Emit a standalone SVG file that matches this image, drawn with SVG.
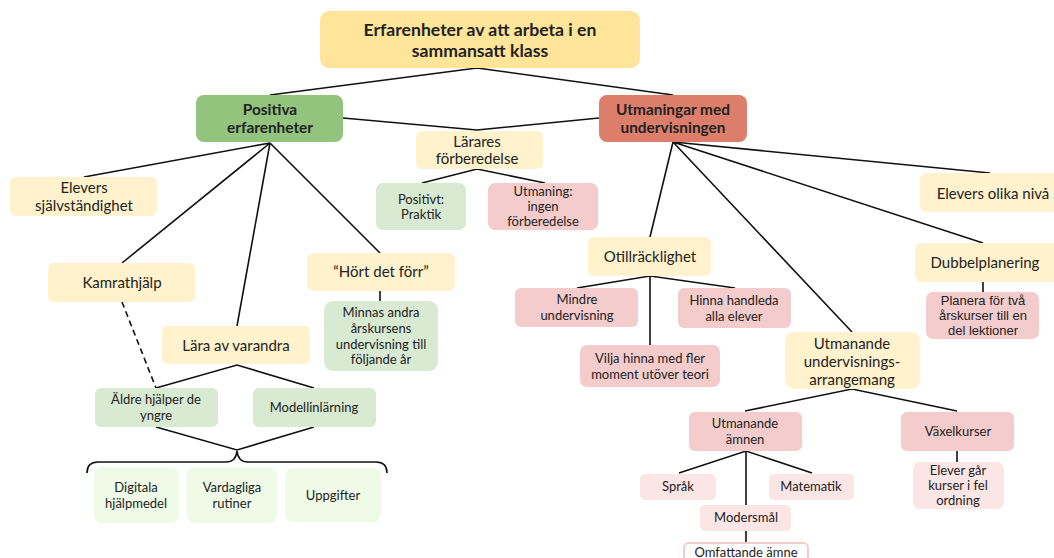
<svg xmlns="http://www.w3.org/2000/svg" width="1054" height="558" viewBox="0 0 1054 558">
  <style>
    text { font-family: Lato, "Liberation Sans", sans-serif; fill: #222; text-anchor: middle; }
    .t17 { font-size: 17.6px; font-weight: bold; }
    .t15b { font-size: 15.4px; font-weight: bold; }
    .t15 { font-size: 15px; }
    .t13 { font-size: 13px; }
    .arial { font-family: "Liberation Sans", Arial, sans-serif; font-size: 13px; }
    .top { fill: #ffe599; }
    .pos { fill: #93c47d; }
    .neg { fill: #dd7e6b; }
    .yel { fill: #fff2cc; }
    .grn { fill: #d9ead3; }
    .lgr { fill: #effae7; }
    .pnk { fill: #f4cccc; }
    .lpk { fill: #fce5e5; }
    .out { fill: #ffffff; stroke: #f4cccc; stroke-width: 2; }
    .edge { fill: none; stroke: #111; stroke-width: 1.6; }
    .dash { fill: none; stroke: #111; stroke-width: 1.6; stroke-dasharray: 6 4; }
  </style>

  <g id="connectors">
    <path class="edge" d="M477,68 L270,95 M477,68 L673,95"/>
    <path class="edge" d="M343,118 L477,130 L599,118"/>
    <path class="edge" d="M422,183 L477,169 L545,183"/>
    <path class="edge" d="M270,143 L84,177 M270,143 L122,263 M270,143 L237,326 M270,143 L380,253"/>
    <path class="edge" d="M380,291 L380,301"/>
    <path class="dash" d="M122,302 L156,388"/>
    <path class="edge" d="M156,388 L237,365 L314,388"/>
    <path class="edge" d="M156,427 L237,450 L314,427"/>
    <path class="edge" d="M87,473 Q87,462 98,462 L226,462 Q236,462 237,451 Q238,462 248,462 L376,462 Q387,462 387,473"/>
    <path class="edge" d="M673,142 L990,173 M673,142 L983,243 M673,142 L650,237 M673,142 L852,332"/>
    <path class="edge" d="M577,288 L650,276 L735,288 M650,276 L650,345"/>
    <path class="edge" d="M983,282 L983,292"/>
    <path class="edge" d="M745,411 L852,389 L957,411"/>
    <path class="edge" d="M957,451 L957,462"/>
    <path class="edge" d="M679,473 L746,451 L812,473 M746,451 L746,505"/>
    <path class="edge" d="M746,531 L746,543"/>
  </g>

  <g id="root">
    <rect class="top" x="320" y="11" width="320" height="57" rx="9"/>
    <text class="t17" x="480" y="36">Erfarenheter av att arbeta i en</text>
    <text class="t17" x="480" y="57">sammansatt klass</text>
  </g>

  <g id="positiva">
    <rect class="pos" x="196" y="95" width="147" height="47" rx="8"/>
    <text class="t15b" x="270" y="115">Positiva</text>
    <text class="t15b" x="270" y="133">erfarenheter</text>
  </g>

  <g id="utmaningar">
    <rect class="neg" x="599" y="95" width="148" height="47" rx="8"/>
    <text class="t15b" x="673" y="115">Utmaningar med</text>
    <text class="t15b" x="673" y="133">undervisningen</text>
  </g>

  <g id="larares">
    <rect class="yel" x="416" y="131" width="127" height="38" rx="6"/>
    <text class="t15" x="477" y="147">Lärares</text>
    <text class="t15" x="477" y="164">förberedelse</text>
  </g>

  <g id="positivt-praktik">
    <rect class="grn" x="376" y="183" width="90" height="47" rx="7"/>
    <text class="t13" x="421" y="204">Positivt:</text>
    <text class="t13" x="421" y="219">Praktik</text>
  </g>

  <g id="utmaning-ingen">
    <rect class="pnk" x="488" y="183" width="110" height="47" rx="7"/>
    <text class="t13" x="543" y="196">Utmaning:</text>
    <text class="t13" x="543" y="211">ingen</text>
    <text class="t13" x="543" y="226">förberedelse</text>
  </g>

  <g id="sjalvstandighet">
    <rect class="yel" x="10" y="177" width="147" height="39" rx="6"/>
    <text class="t15" x="84" y="193">Elevers</text>
    <text class="t15" x="84" y="211">självständighet</text>
  </g>

  <g id="kamrathjalp">
    <rect class="yel" x="48" y="263" width="147" height="39" rx="6"/>
    <text class="t15" x="122" y="288">Kamrathjälp</text>
  </g>

  <g id="hort-det-forr">
    <rect class="yel" x="307" y="253" width="148" height="38" rx="6"/>
    <text class="t15" x="381" y="277">“Hört det förr”</text>
  </g>

  <g id="minnas">
    <rect class="grn" x="324" y="301" width="114" height="70" rx="9"/>
    <text class="t13" x="381" y="317">Minnas andra</text>
    <text class="t13" x="381" y="333">årskursens</text>
    <text class="t13" x="381" y="349">undervisning till</text>
    <text class="t13" x="381" y="364">följande år</text>
  </g>

  <g id="lara-av-varandra">
    <rect class="yel" x="162" y="326" width="148" height="38" rx="6"/>
    <text class="t15" x="236" y="351">Lära av varandra</text>
  </g>

  <g id="aldre">
    <rect class="grn" x="95" y="388" width="123" height="39" rx="6"/>
    <text class="t13" x="156" y="404">Äldre hjälper de</text>
    <text class="t13" x="156" y="420">yngre</text>
  </g>

  <g id="modellinlarning">
    <rect class="grn" x="253" y="388" width="123" height="39" rx="6"/>
    <text class="t13" x="314" y="412">Modellinlärning</text>
  </g>

  <g id="digitala">
    <rect class="lgr" x="94" y="467" width="85" height="56" rx="8"/>
    <text class="t13" x="136" y="492">Digitala</text>
    <text class="t13" x="136" y="508">hjälpmedel</text>
  </g>

  <g id="vardagliga">
    <rect class="lgr" x="187" y="467" width="90" height="56" rx="8"/>
    <text class="t13" x="232" y="492">Vardagliga</text>
    <text class="t13" x="232" y="508">rutiner</text>
  </g>

  <g id="uppgifter">
    <rect class="lgr" x="285" y="468" width="96" height="54" rx="8"/>
    <text class="t13" x="333" y="500">Uppgifter</text>
  </g>

  <g id="elevers-olika-niva">
    <rect class="yel" x="920" y="173" width="142" height="39" rx="6"/>
    <text class="t15" x="993" y="199">Elevers olika nivå</text>
  </g>

  <g id="dubbelplanering">
    <rect class="yel" x="915" y="243" width="147" height="39" rx="6"/>
    <text class="t15" x="985" y="268">Dubbelplanering</text>
  </g>

  <g id="planera">
    <rect class="pnk" x="926" y="292" width="113" height="47" rx="7"/>
    <text class="arial" x="983" y="305">Planera för två</text>
    <text class="arial" x="983" y="320">årskurser till en</text>
    <text class="arial" x="983" y="335">del lektioner</text>
  </g>

  <g id="otillracklighet">
    <rect class="yel" x="588" y="237" width="123" height="39" rx="6"/>
    <text class="t15" x="650" y="262">Otillräcklighet</text>
  </g>

  <g id="mindre-undervisning">
    <rect class="pnk" x="515" y="288" width="123" height="39" rx="6"/>
    <text class="t13" x="577" y="304">Mindre</text>
    <text class="t13" x="577" y="320">undervisning</text>
  </g>

  <g id="hinna-handleda">
    <rect class="pnk" x="678" y="288" width="113" height="40" rx="6"/>
    <text class="t13" x="734" y="305">Hinna handleda</text>
    <text class="t13" x="734" y="321">alla elever</text>
  </g>

  <g id="vilja-hinna">
    <rect class="pnk" x="580" y="345" width="140" height="42" rx="7"/>
    <text class="t13" x="650" y="363">Vilja hinna med fler</text>
    <text class="t13" x="650" y="379">moment utöver teori</text>
  </g>

  <g id="utmanande-arrangemang">
    <rect class="yel" x="785" y="332" width="135" height="57" rx="9"/>
    <text class="t15" x="852" y="349">Utmanande</text>
    <text class="t15" x="852" y="367">undervisnings-</text>
    <text class="t15" x="852" y="385">arrangemang</text>
  </g>

  <g id="utmanande-amnen">
    <rect class="pnk" x="689" y="412" width="113" height="39" rx="6"/>
    <text class="t13" x="745" y="428">Utmanande</text>
    <text class="t13" x="745" y="444">ämnen</text>
  </g>

  <g id="vaxelkurser">
    <rect class="pnk" x="901" y="412" width="113" height="39" rx="6"/>
    <text class="t13" x="958" y="436">Växelkurser</text>
  </g>

  <g id="fel-ordning">
    <rect class="lpk" x="913" y="462" width="91" height="47" rx="7"/>
    <text class="t13" x="958" y="475">Elever går</text>
    <text class="t13" x="958" y="490">kurser i fel</text>
    <text class="t13" x="958" y="505">ordning</text>
  </g>

  <g id="sprak">
    <rect class="lpk" x="640" y="474" width="76" height="26" rx="5"/>
    <text class="t13" x="678" y="491">Språk</text>
  </g>

  <g id="matematik">
    <rect class="lpk" x="769" y="474" width="85" height="26" rx="5"/>
    <text class="t13" x="811" y="491">Matematik</text>
  </g>

  <g id="modersmal">
    <rect class="lpk" x="700" y="505" width="91" height="26" rx="5"/>
    <text class="t13" x="746" y="522">Modersmål</text>
  </g>

  <g id="omfattande-amne">
    <rect class="out" x="684" y="543" width="124" height="30" rx="5"/>
    <text class="t13" x="746" y="557">Omfattande ämne</text>
  </g>
</svg>
